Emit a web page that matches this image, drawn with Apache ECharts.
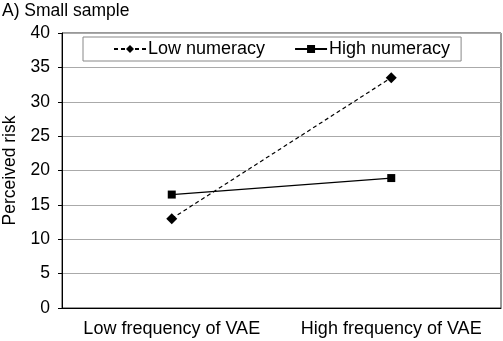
<!DOCTYPE html>
<html><head><meta charset="utf-8">
<script src="https://cdn.jsdelivr.net/npm/echarts@6/dist/echarts.min.js"></script>
<style>html,body{margin:0;padding:0;background:#fff}#c{width:503px;height:341px}</style>
</head><body><div id="c"></div>
<script>
const categories = ['Low frequency of VAE', 'High frequency of VAE'];
const lowNumeracy = [13, 33.5];
const highNumeracy = [16.5, 18.9];
const yTicks = [0, 5, 10, 15, 20, 25, 30, 35, 40];

const F = '"Liberation Sans", Arial, sans-serif';
const chart = echarts.init(document.getElementById('c'));
chart.setOption({
  animation: false,
  title: {text: 'A) Small sample', left: -3, top: -3, textStyle: {fontFamily: F, fontSize: 17.5, fontWeight: 'normal', color: '#000'}},
  grid: {left: 62, right: 2, top: 33, bottom: 33, show: true, borderColor: '#333', borderWidth: 1,
         containLabel: false, outerBoundsMode: 'none'},
  legend: {
    left: 83, top: 37, width: 377,
    padding: [3, 11, 3, 30], itemGap: 29, itemWidth: 32, itemHeight: 10,
    borderColor: '#888', borderWidth: 1, backgroundColor: '#fff',
    textStyle: {fontFamily: F, fontSize: 18, color: '#000', padding: [0,0,0,-3]},
    data: ['Low numeracy', 'High numeracy']
  },
  xAxis: {
    type: 'category', data: categories, boundaryGap: true,
    axisLine: {lineStyle: {color: '#000', width: 1}},
    axisTick: {alignWithLabel: true, length: 4, lineStyle: {color: '#999'}},
    axisLabel: {interval: 0, fontFamily: F, fontSize: 18, color: '#000', margin: 12}
  },
  yAxis: {
    type: 'value', min: yTicks[0], max: yTicks[yTicks.length-1], interval: 5,
    name: 'Perceived risk', nameLocation: 'middle', nameGap: 42,
    nameTextStyle: {fontFamily: F, fontSize: 17.5, color: '#000'},
    axisLine: {show: true, lineStyle: {color: '#000', width: 1}},
    axisTick: {show: true, length: 4, lineStyle: {color: '#000'}},
    axisLabel: {fontFamily: F, fontSize: 17.5, color: '#000', margin: 12},
    splitLine: {lineStyle: {color: '#aaa', width: 1}}
  },
  series: [
    {name: 'Low numeracy', type: 'line', data: lowNumeracy, symbol: 'diamond', symbolSize: 11,
     itemStyle: {color: '#000'}, lineStyle: {color: '#000', width: 1.2, type: [4, 3]}},
    {name: 'High numeracy', type: 'line', data: highNumeracy, symbol: 'rect', symbolSize: 8,
     itemStyle: {color: '#000'}, lineStyle: {color: '#000', width: 1.2, type: 'solid'}}
  ]
});
</script></body></html>
